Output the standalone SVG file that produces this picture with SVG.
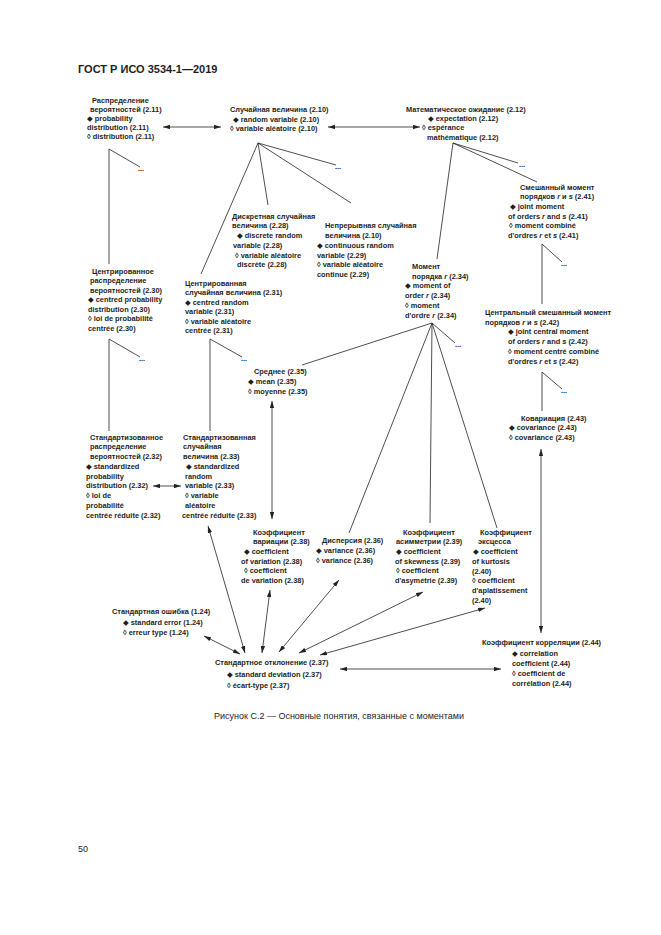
<svg xmlns="http://www.w3.org/2000/svg" width="661" height="935" viewBox="0 0 661 935">
<style>
.t{font-family:"Liberation Sans",Arial,"DejaVu Sans",sans-serif;font-size:7.4px;font-weight:bold;fill:#1e1e1e}
.i{font-style:italic}
.h{font-family:"Liberation Sans",Arial,sans-serif;font-size:11px;font-weight:bold;fill:#1e1e1e}
.c{font-family:"Liberation Sans",Arial,sans-serif;font-size:9px;fill:#1e1e1e}
.ln{stroke:#222;stroke-width:0.8;fill:none}
.ar{stroke:#222;stroke-width:0.8;fill:none;marker-start:url(#ah);marker-end:url(#ah)}
</style>
<defs>
<marker id="ah" viewBox="0 0 8 5" refX="8" refY="2.5" markerWidth="7" markerHeight="4.4" markerUnits="userSpaceOnUse" orient="auto-start-reverse">
<path d="M0,0 L8,2.5 L0,5 z" fill="#222"/>
</marker>
</defs>
<rect width="661" height="935" fill="#fff"/>
<text class="h" x="78" y="73">ГОСТ Р ИСО 3534-1—2019</text>

<g id="connectors">
<line class="ln" x1="109" y1="149" x2="140" y2="167"/>
<line class="ln" x1="109" y1="149" x2="109" y2="264"/>
<line class="ln" x1="258" y1="143" x2="336" y2="165"/>
<line class="ln" x1="258" y1="143" x2="268" y2="205"/>
<line class="ln" x1="258" y1="143" x2="351" y2="203"/>
<line class="ln" x1="258" y1="143" x2="201" y2="274"/>
<line class="ln" x1="453" y1="143" x2="518" y2="163"/>
<line class="ln" x1="453" y1="143" x2="537" y2="182"/>
<line class="ln" x1="453" y1="143" x2="437" y2="259"/>
<line class="ln" x1="542" y1="244" x2="562" y2="262"/>
<line class="ln" x1="542" y1="244" x2="542" y2="304"/>
<line class="ln" x1="432" y1="323" x2="455" y2="343"/>
<line class="ln" x1="432" y1="323" x2="302" y2="365"/>
<line class="ln" x1="432" y1="323" x2="349" y2="533"/>
<line class="ln" x1="432" y1="323" x2="430" y2="523"/>
<line class="ln" x1="432" y1="323" x2="497" y2="528"/>
<line class="ln" x1="109" y1="339" x2="140" y2="357"/>
<line class="ln" x1="109" y1="339" x2="109" y2="431"/>
<line class="ln" x1="210" y1="339" x2="242" y2="357"/>
<line class="ln" x1="210" y1="339" x2="210" y2="431"/>
<line class="ln" x1="542" y1="372" x2="562" y2="389"/>
<line class="ln" x1="542" y1="372" x2="542" y2="411"/>

<line class="ar" x1="163" y1="127" x2="221" y2="127"/>
<line class="ar" x1="328" y1="127" x2="420" y2="127"/>
<line class="ar" x1="153" y1="486" x2="181" y2="486"/>
<line class="ar" x1="272" y1="401" x2="272" y2="519"/>
<line class="ar" x1="541" y1="449" x2="541" y2="633"/>
<line class="ar" x1="208" y1="526" x2="245" y2="653"/>
<line class="ar" x1="270" y1="590" x2="262" y2="653"/>
<line class="ar" x1="339" y1="580" x2="279" y2="652"/>
<line class="ar" x1="423" y1="592" x2="299" y2="653"/>
<line class="ar" x1="485" y1="608" x2="320" y2="655"/>
<line class="ar" x1="204" y1="636" x2="240" y2="654"/>
<line class="ar" x1="340" y1="669" x2="501" y2="669"/>

<text class="t" x="138" y="171">...</text>
<text class="t" x="335" y="169">...</text>
<text class="t" x="519" y="167">...</text>
<text class="t" x="561" y="266">...</text>
<text class="t" x="455" y="347">...</text>
<text class="t" x="139" y="361">...</text>
<text class="t" x="241" y="361">...</text>
<text class="t" x="561" y="393">...</text>
</g>

<g id="n-raspredelenie">
<text class="t" x="92" y="102.5">Распределение</text>
<text class="t" x="90" y="111.8">вероятностей (2.11)</text>
<text class="t" x="87" y="121">◆ probability</text>
<text class="t" x="87" y="130">distribution (2.11)</text>
<text class="t" x="87" y="139.3">◊ distribution (2.11)</text>
</g>

<g id="n-sluchainaya">
<text class="t" x="230" y="112">Случайная величина (2.10)</text>
<text class="t" x="233" y="121.5">◆ random variable (2.10)</text>
<text class="t" x="230" y="131">◊ variable aléatoire (2.10)</text>
</g>

<g id="n-ozhidanie">
<text class="t" x="406" y="112">Математическое ожидание (2.12)</text>
<text class="t" x="428" y="121">◆ expectation (2.12)</text>
<text class="t" x="422" y="130">◊ espérance</text>
<text class="t" x="427" y="139.5">mathématique (2.12)</text>
</g>

<g id="n-smeshanny">
<text class="t" x="520" y="189.7">Смешанный момент</text>
<text class="t" x="520" y="199.3">порядков <tspan class="i">r</tspan> и <tspan class="i">s</tspan> (2.41)</text>
<text class="t" x="510" y="208.9">◆ joint moment</text>
<text class="t" x="508" y="218.5">of orders <tspan class="i">r</tspan> and <tspan class="i">s</tspan> (2.41)</text>
<text class="t" x="509" y="228.1">◊ moment combiné</text>
<text class="t" x="508" y="237.7">d'ordres <tspan class="i">r</tspan> et <tspan class="i">s</tspan> (2.41)</text>
</g>

<g id="n-diskretnaya">
<text class="t" x="232" y="218.7">Дискретная случайная</text>
<text class="t" x="232" y="228.4">величина (2.28)</text>
<text class="t" x="237" y="238.1">◆ discrete random</text>
<text class="t" x="233" y="247.8">variable (2.28)</text>
<text class="t" x="235" y="257.5">◊ variable aléatoire</text>
<text class="t" x="237" y="267.2">discrète (2.28)</text>
</g>

<g id="n-nepreryvnaya">
<text class="t" x="325" y="228.4">Непрерывная случайная</text>
<text class="t" x="325" y="238.1">величина (2.10)</text>
<text class="t" x="317" y="247.8">◆ continuous random</text>
<text class="t" x="317" y="257.5">variable (2.29)</text>
<text class="t" x="317" y="267.2">◊ variable aléatoire</text>
<text class="t" x="317" y="276.9">continue (2.29)</text>
</g>

<g id="n-moment">
<text class="t" x="412" y="268.7">Момент</text>
<text class="t" x="412" y="278.5">порядка <tspan class="i">r</tspan> (2.34)</text>
<text class="t" x="405" y="288.3">◆ moment of</text>
<text class="t" x="405" y="298.1">order <tspan class="i">r</tspan> (2.34)</text>
<text class="t" x="405" y="307.9">◊ moment</text>
<text class="t" x="405" y="317.7">d'ordre <tspan class="i">r</tspan> (2.34)</text>
</g>

<g id="n-centr-raspr">
<text class="t" x="92" y="273.7">Центрированное</text>
<text class="t" x="90" y="283.2">распределение</text>
<text class="t" x="90" y="292.7">вероятностей (2.30)</text>
<text class="t" x="88" y="302.2">◆ centred probability</text>
<text class="t" x="88" y="311.7">distribution (2.30)</text>
<text class="t" x="88" y="321.2">◊ loi de probabilité</text>
<text class="t" x="88" y="330.7">centrée (2.30)</text>
</g>

<g id="n-centr-sluch">
<text class="t" x="185" y="285.7">Центрированная</text>
<text class="t" x="185" y="295.2">случайная величина (2.31)</text>
<text class="t" x="185" y="304.7">◆ centred random</text>
<text class="t" x="185" y="314.2">variable (2.31)</text>
<text class="t" x="185" y="323.7">◊ variable aléatoire</text>
<text class="t" x="185" y="333.2">centrée (2.31)</text>
</g>

<g id="n-centr-smesh">
<text class="t" x="485" y="314.7">Центральный смешанный момент</text>
<text class="t" x="485" y="324.5">порядков <tspan class="i">r</tspan> и <tspan class="i">s</tspan> (2.42)</text>
<text class="t" x="508" y="334.3">◆ joint central moment</text>
<text class="t" x="508" y="344.1">of orders <tspan class="i">r</tspan> and <tspan class="i">s</tspan> (2.42)</text>
<text class="t" x="508" y="353.9">◊ moment centré combiné</text>
<text class="t" x="508" y="363.7">d'ordres <tspan class="i">r</tspan> et <tspan class="i">s</tspan> (2.42)</text>
</g>

<g id="n-srednee">
<text class="t" x="254" y="373.7">Среднее (2.35)</text>
<text class="t" x="248" y="383.7">◆ mean (2.35)</text>
<text class="t" x="248" y="393.7">◊ moyenne (2.35)</text>
</g>

<g id="n-kovariaciya">
<text class="t" x="521" y="420.7">Ковариация (2.43)</text>
<text class="t" x="509" y="430.2">◆ covariance (2.43)</text>
<text class="t" x="509" y="439.7">◊ covariance (2.43)</text>
</g>

<g id="n-stand-raspr">
<text class="t" x="90" y="439.7">Стандартизованное</text>
<text class="t" x="90" y="449.45">распределение</text>
<text class="t" x="90" y="459.2">вероятностей (2.32)</text>
<text class="t" x="86" y="468.95">◆ standardized</text>
<text class="t" x="86" y="478.7">probability</text>
<text class="t" x="86" y="488.45">distribution (2.32)</text>
<text class="t" x="86" y="498.2">◊ loi de</text>
<text class="t" x="86" y="507.95">probabilité</text>
<text class="t" x="86" y="517.7">centrée réduite (2.32)</text>
</g>

<g id="n-stand-sluch">
<text class="t" x="183" y="439.7">Стандартизованная</text>
<text class="t" x="183" y="449.45">случайная</text>
<text class="t" x="183" y="459.2">величина (2.33)</text>
<text class="t" x="186" y="468.95">◆ standardized</text>
<text class="t" x="185" y="478.7">random</text>
<text class="t" x="185" y="488.45">variable (2.33)</text>
<text class="t" x="185" y="498.2">◊ variable</text>
<text class="t" x="185" y="507.95">aléatoire</text>
<text class="t" x="182" y="517.7">centrée réduite (2.33)</text>
</g>

<g id="n-koef-variacii">
<text class="t" x="253" y="534.7">Коэффициент</text>
<text class="t" x="253" y="544.3">вариации (2.38)</text>
<text class="t" x="244" y="553.9">◆ coefficient</text>
<text class="t" x="241" y="563.5">of variation (2.38)</text>
<text class="t" x="244" y="573.1">◊ coefficient</text>
<text class="t" x="241" y="582.7">de variation (2.38)</text>
</g>

<g id="n-dispersiya">
<text class="t" x="322" y="543.2">Дисперсия (2.36)</text>
<text class="t" x="316" y="553">◆ variance (2.36)</text>
<text class="t" x="316" y="562.7">◊ variance (2.36)</text>
</g>

<g id="n-asimmetriya">
<text class="t" x="403" y="534.7">Коэффициент</text>
<text class="t" x="396" y="544.3">асимметрии (2.39)</text>
<text class="t" x="396" y="553.9">◆ coefficient</text>
<text class="t" x="395" y="563.5">of skewness (2.39)</text>
<text class="t" x="396" y="573.1">◊ coefficient</text>
<text class="t" x="395" y="582.7">d'asymétrie (2.39)</text>
</g>

<g id="n-ekscess">
<text class="t" x="480" y="534.7">Коэффициент</text>
<text class="t" x="478" y="544.4">эксцесса</text>
<text class="t" x="473" y="554.1">◆ coefficient</text>
<text class="t" x="472" y="563.8">of kurtosis</text>
<text class="t" x="472" y="573.5">(2.40)</text>
<text class="t" x="472" y="583.2">◊ coefficient</text>
<text class="t" x="472" y="592.9">d'aplatissement</text>
<text class="t" x="472" y="602.6">(2.40)</text>
</g>

<g id="n-st-oshibka">
<text class="t" x="112" y="613.7">Стандартная ошибка (1.24)</text>
<text class="t" x="123" y="624.7">◆ standard error (1.24)</text>
<text class="t" x="123" y="635.2">◊ erreur type (1.24)</text>
</g>

<g id="n-st-otklonenie">
<text class="t" x="215" y="665.2">Стандартное отклонение (2.37)</text>
<text class="t" x="227" y="676.7">◆ standard deviation (2.37)</text>
<text class="t" x="227" y="687.7">◊ écart-type (2.37)</text>
</g>

<g id="n-korrelyaciya">
<text class="t" x="482" y="645.2">Коэффициент корреляции (2.44)</text>
<text class="t" x="512" y="655.7">◆ correlation</text>
<text class="t" x="512" y="665.7">coefficient (2.44)</text>
<text class="t" x="512" y="675.7">◊ coefficient de</text>
<text class="t" x="512" y="686.2">corrélation (2.44)</text>
</g>

<text class="c" x="339" y="719" text-anchor="middle">Рисунок С.2 — Основные понятия, связанные с моментами</text>
<text class="c" x="78" y="852">50</text>
</svg>
